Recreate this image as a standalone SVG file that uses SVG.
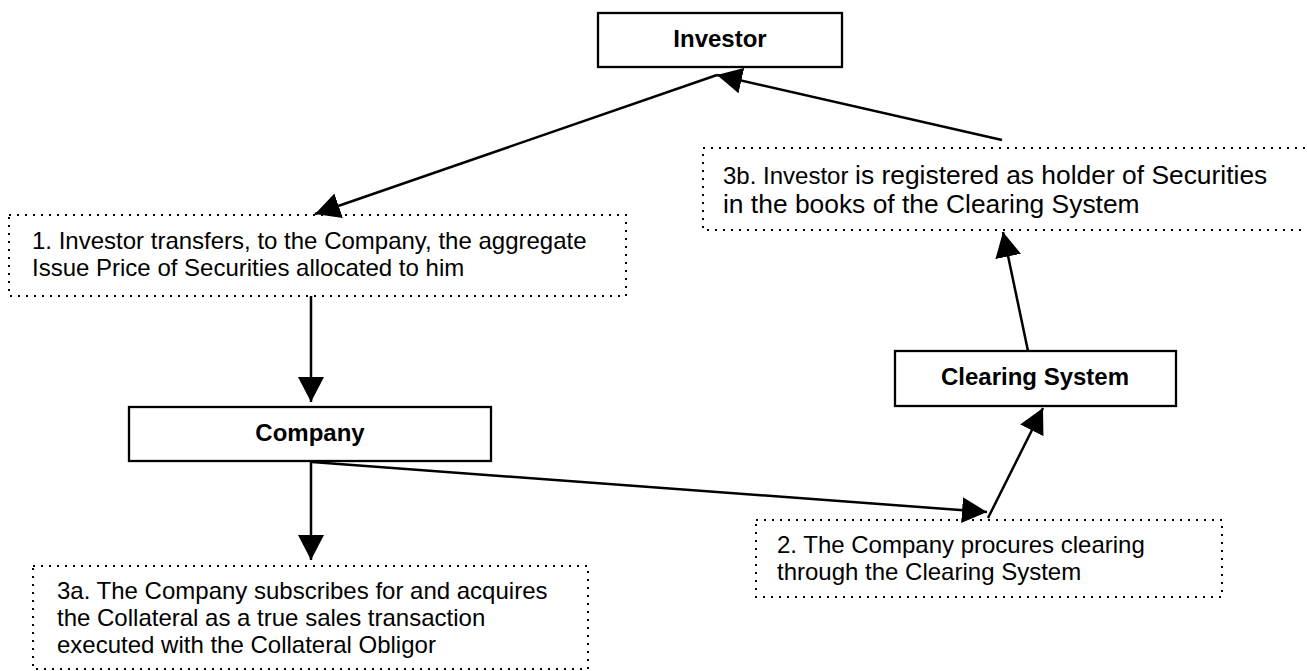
<svg xmlns="http://www.w3.org/2000/svg" width="1307" height="671" viewBox="0 0 1307 671">
<style>
.box{fill:#fff;stroke:#000;stroke-width:2.3}
.dot{fill:#fff;stroke:#000;stroke-width:2;stroke-dasharray:2 6}
.t{font-family:"Liberation Sans",Arial,sans-serif;font-size:24px;fill:#000}
.b{font-weight:bold;text-anchor:middle}
.big{font-size:26.4px}
.ln{stroke:#000;stroke-width:2.5;fill:none;marker-end:url(#ah)}
</style>
<defs>
<marker id="ah" markerUnits="userSpaceOnUse" markerWidth="26" markerHeight="26" refX="25" refY="13" orient="auto" viewBox="0 0 26 26">
<path d="M0,0 L25,13 L0,26 Z" fill="#000"/>
</marker>
</defs>
<rect x="0" y="0" width="1307" height="671" fill="#fff"/>
<g id="investor">
<rect class="box" x="598" y="13" width="244" height="54"/>
<text class="t b" x="720" y="47">Investor</text>
</g>
<g id="step1">
<rect class="dot" x="9" y="215" width="617" height="81"/>
<text class="t" x="32" y="249">1. Investor transfers, to the Company, the aggregate</text>
<text class="t" x="32" y="276">Issue Price of Securities allocated to him</text>
</g>
<g id="step3b">
<rect class="dot" x="703" y="148" width="610" height="82"/>
<text class="t" x="723" y="184">3b. Investor <tspan class="big">is registered as holder of Securities</tspan></text>
<text class="t big" x="723" y="213">in the books of the Clearing System</text>
</g>
<g id="company">
<rect class="box" x="129" y="407" width="362" height="54"/>
<text class="t b" x="310" y="441">Company</text>
</g>
<g id="clearing">
<rect class="box" x="895" y="351" width="281" height="55"/>
<text class="t b" x="1035" y="385">Clearing System</text>
</g>
<g id="step2">
<rect class="dot" x="756" y="520" width="466" height="77"/>
<text class="t" x="777" y="553">2. The Company procures clearing</text>
<text class="t" x="777" y="580">through the Clearing System</text>
</g>
<g id="step3a">
<rect class="dot" x="33" y="566" width="555" height="103"/>
<text class="t" x="57" y="599">3a. The Company subscribes for and acquires</text>
<text class="t" x="57" y="626">the Collateral as a true sales transaction</text>
<text class="t" x="57" y="653">executed with the Collateral Obligor</text>
</g>
<g id="connectors">
<line class="ln" x1="717" y1="75" x2="315" y2="214"/>
<line class="ln" x1="1002" y1="140" x2="717" y2="75"/>
<line class="ln" x1="311" y1="296" x2="311" y2="402"/>
<line class="ln" x1="311" y1="461" x2="311" y2="560"/>
<line class="ln" x1="312" y1="462" x2="987" y2="512"/>
<line class="ln" x1="988" y1="518" x2="1043" y2="408"/>
<line class="ln" x1="1028" y1="351" x2="1003" y2="232"/>
</g>
</svg>
